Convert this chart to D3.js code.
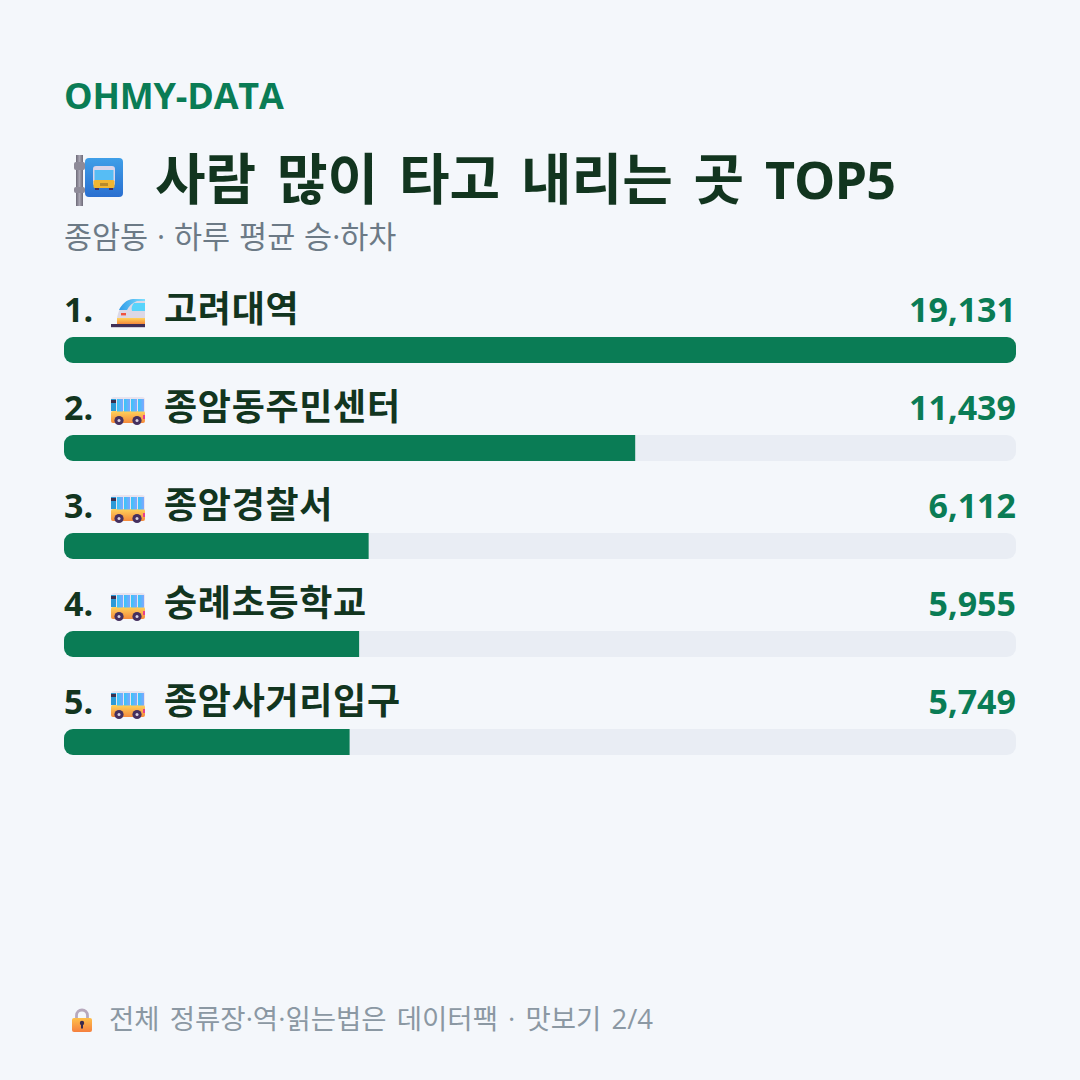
<!DOCTYPE html>
<html lang="ko">
<head>
<meta charset="utf-8">
<style>
html,body{margin:0;padding:0;background:#f4f7fb}
svg{display:block}
text{font-family:"Open Sans","Noto Sans CJK KR",sans-serif}
</style>
<script src="https://cdn.jsdelivr.net/npm/d3@7/dist/d3.min.js"></script>
</head>
<body>
<svg id="chart" width="1080" height="1080" xmlns="http://www.w3.org/2000/svg"></svg>
<script>
// Busiest stops in Jongam-dong, average daily boardings and alightings
const ranks = [1, 2, 3, 4, 5];
const stops = ["고려대역", "종암동주민센터", "종암경찰서", "숭례초등학교", "종암사거리입구"];
const riders = [19131, 11439, 6112, 5955, 5749];
const icons = ["train", "bus", "bus", "bus", "bus"];

const brand = "OHMY-DATA";
const titleKo = "사람 많이 타고 내리는 곳";
const titleEn = "TOP5";
const subtitle = "종암동 · 하루 평균 승·하차";
const footer = "전체 정류장·역·읽는법은 데이터팩 · 맛보기 2/4";

const GREEN = "#0a7c55", INK = "#12351f", TRACK = "#e9edf4";

const svg = d3.select("#chart");
svg.append("rect").attr("width", 1080).attr("height", 1080).attr("fill", "#f4f7fb");

// Bars are sized by their whole-number share of the busiest stop
const maxRiders = d3.max(riders);
const share = v => Math.round(v / maxRiders * 100);
const x = d3.scaleLinear().domain([0, 100]).range([64, 1016]);
const y = d3.scaleBand().domain(ranks).range([285, 775]).paddingInner(0);
const fmt = d3.format(",");

const defs = svg.append("defs");
function gradient(id, stopsList, horizontal) {
  const g = defs.append("linearGradient").attr("id", id)
    .attr("x1", 0).attr("y1", 0).attr("x2", horizontal ? 1 : 0).attr("y2", horizontal ? 0 : 1);
  stopsList.forEach(([o, c]) => g.append("stop").attr("offset", o).attr("stop-color", c));
}
gradient("gWindow", [[0, "#36c6f7"], [1, "#7ea7ff"]], true);
gradient("gBody", [[0, "#ffd35a"], [1, "#f58a3c"]], false);
gradient("gSign", [[0, "#3f9fe8"], [1, "#2a6fd0"]], false);
gradient("gPole", [[0, "#6d6a78"], [0.5, "#a8a5b2"], [1, "#6d6a78"]], true);
gradient("gLock", [[0, "#ffc04a"], [1, "#f57f3e"]], false);
gradient("gNose", [[0, "#2f9be8"], [1, "#7fe0ff"]], true);

// Track outline shared by every row, so a fill only rounds where it meets the track end
defs.append("clipPath").attr("id", "trackClip")
  .append("rect").attr("x", x(0)).attr("y", 52).attr("width", x(100) - x(0)).attr("height", 26).attr("rx", 9);

// Small pictographs, each drawn in a 34x34 box
const bus = defs.append("g").attr("id", "icon-bus");
bus.append("rect").attr("x", 0).attr("y", 3).attr("width", 34).attr("height", 24).attr("rx", 3).attr("fill", "#e8e3ee");
bus.append("rect").attr("x", 0).attr("y", 17).attr("width", 34).attr("height", 12).attr("rx", 2).attr("fill", "url(#gBody)");
bus.append("rect").attr("x", 0).attr("y", 5).attr("width", 5).attr("height", 12).attr("fill", "#2c9ad6");
[6, 13, 20, 27].forEach(px => bus.append("rect").attr("x", px).attr("y", 5).attr("width", 6).attr("height", 12.5).attr("fill", "url(#gWindow)"));
bus.append("rect").attr("x", 0).attr("y", 6).attr("width", 5).attr("height", 3).attr("fill", "#3a2f4e");
bus.append("rect").attr("x", 32).attr("y", 21).attr("width", 2).attr("height", 4).attr("fill", "#e8408a");
[8, 26].forEach(px => {
  bus.append("circle").attr("cx", px).attr("cy", 26.5).attr("r", 4.6).attr("fill", "#45305f");
  bus.append("circle").attr("cx", px).attr("cy", 26.5).attr("r", 1.5).attr("fill", "#d9d2e2");
});

const train = defs.append("g").attr("id", "icon-train");
train.append("path").attr("d", "M6 24C6 16 12 4 22 3H34V24Z").attr("fill", "#dcd8e6");
train.append("path").attr("d", "M8 14C11 8 15 4 22 3H34V5H26C21 7 18 10 16 14Z").attr("fill", "url(#gNose)");
train.append("path").attr("d", "M23 7H34V15H21C20 12 21 9 23 7Z").attr("fill", "#58d4fb");
train.append("rect").attr("x", 10).attr("y", 17).attr("width", 5).attr("height", 2.4).attr("fill", "#f0533f");
train.append("path").attr("d", "M6 22H34V28H6Z").attr("fill", "url(#gBody)");
train.append("rect").attr("x", 0).attr("y", 28).attr("width", 34).attr("height", 3.2).attr("fill", "#3f2f57");

const stopSign = defs.append("g").attr("id", "icon-stop");
stopSign.append("rect").attr("x", 2).attr("y", 0).attr("width", 7).attr("height", 51).attr("fill", "url(#gPole)");
stopSign.append("rect").attr("x", 0).attr("y", 7).attr("width", 11).attr("height", 8).attr("rx", 2).attr("fill", "#8d8a98");
stopSign.append("rect").attr("x", 0).attr("y", 32).attr("width", 11).attr("height", 6).attr("rx", 2).attr("fill", "#8d8a98");
stopSign.append("rect").attr("x", 11).attr("y", 3).attr("width", 38).attr("height", 39).attr("rx", 4).attr("fill", "url(#gSign)");
stopSign.append("rect").attr("x", 19).attr("y", 11).attr("width", 22).attr("height", 20).attr("rx", 3).attr("fill", "#d9d4ea");
stopSign.append("rect").attr("x", 20.5).attr("y", 15).attr("width", 19).attr("height", 10).attr("fill", "#56bdf5");
stopSign.append("rect").attr("x", 19.5).attr("y", 25).attr("width", 21).attr("height", 8).attr("rx", 1.5).attr("fill", "#f2b632");
stopSign.append("rect").attr("x", 26).attr("y", 28).attr("width", 8).attr("height", 3).attr("fill", "#b98a2a");
stopSign.append("rect").attr("x", 21).attr("y", 33).attr("width", 4).attr("height", 2).attr("fill", "#45305f");
stopSign.append("rect").attr("x", 35).attr("y", 33).attr("width", 4).attr("height", 2).attr("fill", "#45305f");

const lock = defs.append("g").attr("id", "icon-lock");
lock.append("path").attr("d", "M4.5 11V7.5A5.5 5.5 0 0 1 15.5 7.5V11").attr("fill", "none").attr("stroke", "#b7a9bd").attr("stroke-width", 2.8);
lock.append("rect").attr("x", 0).attr("y", 10).attr("width", 20).attr("height", 14).attr("rx", 2).attr("fill", "url(#gLock)");
lock.append("circle").attr("cx", 10).attr("cy", 15).attr("r", 2.2).attr("fill", "#3a2a4e");
lock.append("rect").attr("x", 9).attr("y", 15).attr("width", 2).attr("height", 5.5).attr("fill", "#3a2a4e");

// Header
svg.append("text").attr("x", 64).attr("y", 109).attr("font-size", 36).attr("font-weight", 700)
  .attr("letter-spacing", -0.2).attr("fill", GREEN).text(brand);
svg.append("use").attr("href", "#icon-stop").attr("x", 74).attr("y", 155);
const titleText = svg.append("text").attr("x", 155).attr("y", 199).attr("font-weight", 700).attr("fill", INK);
titleText.append("tspan").attr("font-size", 55).attr("word-spacing", 6.5).text(titleKo);
titleText.append("tspan").attr("x", 765).attr("font-size", 52).attr("letter-spacing", -1).text(titleEn);
svg.append("text").attr("x", 64).attr("y", 248).attr("font-size", 30.5).attr("word-spacing", 1)
  .attr("fill", "#6c7a86").text(subtitle);

// One row per stop: rank, icon, name, value, then the bar on its track
const rows = svg.selectAll("g.row")
  .data(ranks.map((r, i) => ({ rank: r, stop: stops[i], value: riders[i], icon: icons[i] })))
  .join("g").attr("class", "row")
  .attr("transform", d => `translate(0,${y(d.rank)})`);

rows.append("text").attr("x", 64).attr("y", 37).attr("font-size", 34).attr("font-weight", 700)
  .attr("fill", INK).text(d => `${d.rank}.`);
rows.append("use").attr("href", d => `#icon-${d.icon}`).attr("x", 111).attr("y", 11);
rows.append("text").attr("x", 164).attr("y", 37).attr("font-size", 36).attr("letter-spacing", 0.7).attr("font-weight", 700)
  .attr("fill", INK).text(d => d.stop);
rows.append("text").attr("x", 1016).attr("y", 37).attr("font-size", 34).attr("font-weight", 700)
  .attr("text-anchor", "end").attr("fill", GREEN).text(d => fmt(d.value));
rows.append("rect").attr("x", x(0)).attr("y", 52).attr("width", x(100) - x(0)).attr("height", 26)
  .attr("rx", 9).attr("fill", TRACK);
rows.append("rect").attr("x", x(0)).attr("y", 52).attr("width", d => x(share(d.value)) - x(0)).attr("height", 26)
  .attr("clip-path", "url(#trackClip)").attr("fill", GREEN);

// Footer
svg.append("use").attr("href", "#icon-lock").attr("x", 72).attr("y", 1008);
svg.append("text").attr("x", 109).attr("y", 1029).attr("font-size", 27.5).attr("word-spacing", 3)
  .attr("fill", "#8b98a3").text(footer);
</script>
</body>
</html>
